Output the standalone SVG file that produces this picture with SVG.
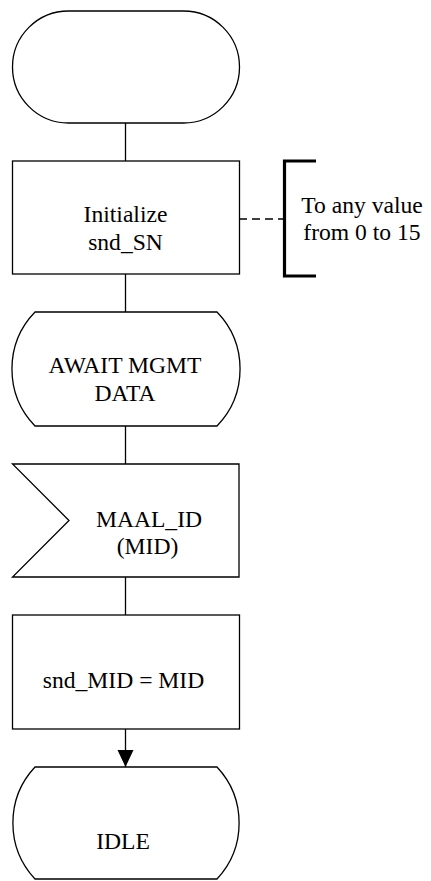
<svg xmlns="http://www.w3.org/2000/svg" width="431" height="881" viewBox="0 0 431 881">
<style>
.s{fill:#fff;stroke:#000;stroke-width:1.3}
.t{font-family:"Liberation Serif","Times New Roman",serif;font-size:23.6px;fill:#000;text-anchor:middle}
.c{stroke:#000;stroke-width:1.3;fill:none}
</style>
<rect width="431" height="881" fill="#fff"/>
<g id="connectors">
<line class="c" x1="125.5" y1="123" x2="125.5" y2="161"/>
<line class="c" x1="125.5" y1="274" x2="125.5" y2="312"/>
<line class="c" x1="125.5" y1="426" x2="125.5" y2="464"/>
<line class="c" x1="125.5" y1="577" x2="125.5" y2="615"/>
<line class="c" x1="125.5" y1="729" x2="125.5" y2="767"/>
<path d="M117.5,750 L133.5,750 L125.5,767 Z" fill="#000"/>
<line class="c" x1="239" y1="219" x2="284" y2="219" stroke-dasharray="8,5"/>
</g>
<g id="start">
<rect class="s" x="12.5" y="11" width="227" height="112" rx="56" ry="56"/>
</g>
<g id="init">
<rect class="s" x="12.5" y="161" width="227" height="113"/>
<text class="t" x="125.5" y="222">Initialize</text>
<text class="t" x="125.5" y="250">snd_SN</text>
</g>
<g id="comment">
<path d="M316,161 H284.5 V276 H316" fill="none" stroke="#000" stroke-width="3.2"/>
<text class="t" x="362" y="213">To any value</text>
<text class="t" x="362" y="240">from 0 to 15</text>
</g>
<g id="await">
<path class="s" d="M35,312 H217 A82,82 0 0 1 217,426 H35 A82,82 0 0 1 35,312 Z"/>
<text class="t" x="125" y="373">AWAIT MGMT</text>
<text class="t" x="125" y="401">DATA</text>
</g>
<g id="input">
<path class="s" d="M12.5,464 H239 V577 H12.5 L69,520.5 Z"/>
<text class="t" x="149" y="527">MAAL_ID</text>
<text class="t" x="147.5" y="554">(MID)</text>
</g>
<g id="assign">
<rect class="s" x="12.5" y="615" width="227" height="114"/>
<text class="t" x="123.5" y="688">snd_MID = MID</text>
</g>
<g id="idle">
<path class="s" d="M35,767 H217 A82,82 0 0 1 217,879 H35 A82,82 0 0 1 35,767 Z"/>
<text class="t" x="123" y="849">IDLE</text>
</g>
</svg>
